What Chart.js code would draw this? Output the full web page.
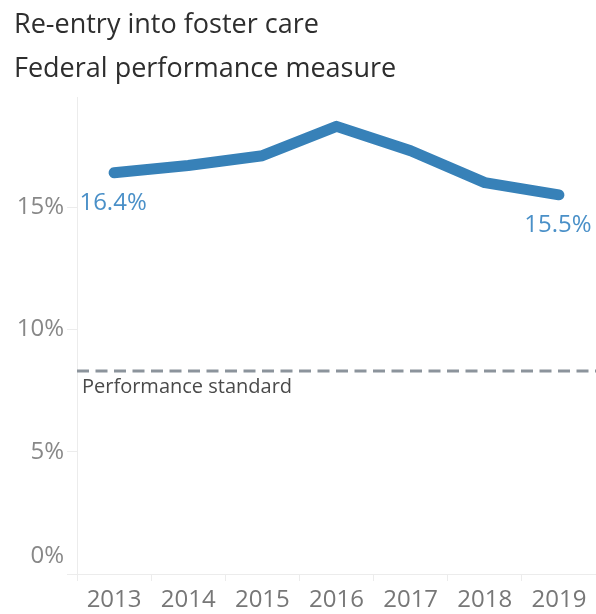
<!DOCTYPE html>
<html>
<head>
<meta charset="utf-8">
<script src="https://cdn.jsdelivr.net/npm/chart.js@4"></script>
<style>
html,body{margin:0;padding:0;background:#fff;}
#wrap{width:596px;height:614px;position:relative;}
</style>
</head>
<body>
<div id="wrap"><canvas id="c" width="596" height="614"></canvas></div>
<script>
const titleLines = ['Re-entry into foster care', 'Federal performance measure'];
const years = ['2013', '2014', '2015', '2016', '2017', '2018', '2019'];
const reentryRate = [16.4, 16.7, 17.1, 18.3, 17.3, 16.0, 15.5];
const labelledPoints = [0, 6];
const standardValue = 8.3;
const standardLabel = 'Performance standard';
const yTicks = [0, 5, 10, 15];

const FONT = "'Open Sans', 'Noto Sans', sans-serif";

const overlay = {
  id: 'overlay',
  beforeDatasetsDraw(chart) {
    const {ctx, chartArea, scales} = chart;
    const y = scales.y.getPixelForValue(standardValue);
    ctx.save();
    ctx.strokeStyle = '#8c949c';
    ctx.lineWidth = 3;
    ctx.setLineDash([12, 6.5]);
    ctx.beginPath();
    ctx.moveTo(chartArea.left, y);
    ctx.lineTo(chartArea.right, y);
    ctx.stroke();
    ctx.setLineDash([]);
    ctx.fillStyle = '#4a4a4a';
    ctx.font = "20px " + FONT;
    ctx.textAlign = 'left';
    ctx.textBaseline = 'middle';
    ctx.fillText(standardLabel, chartArea.left + 5, y + 16);
    ctx.restore();
  },
  afterDatasetsDraw(chart) {
    const {ctx, scales} = chart;
    const meta = chart.getDatasetMeta(0);
    ctx.save();
    ctx.fillStyle = '#4a90c8';
    ctx.font = "24px " + FONT;
    ctx.textAlign = 'center';
    ctx.textBaseline = 'middle';
    labelledPoints.forEach(i => {
      const p = meta.data[i];
      ctx.fillText(reentryRate[i].toFixed(1) + '%', p.x - 1, p.y + 30);
    });
    // 0% label sits above the baseline
    ctx.fillStyle = '#888';
    ctx.textAlign = 'right';
    const y0 = scales.y.getPixelForValue(0);
    ctx.fillText(yTicks[0] + '%', scales.y.right - 13, y0 - 17.5);
    ctx.restore();
  }
};

new Chart(document.getElementById('c'), {
  type: 'line',
  data: {
    labels: years,
    datasets: [{
      data: reentryRate,
      borderColor: '#3781b8',
      borderWidth: 11,
      borderCapStyle: 'round',
      borderJoinStyle: 'round',
      pointRadius: 0,
      pointHoverRadius: 0,
      tension: 0,
      fill: false
    }]
  },
  options: {
    responsive: false,
    animation: false,
    devicePixelRatio: 1,
    layout: {padding: {left: 14, right: 0, top: 0, bottom: 0}},
    plugins: {
      legend: {display: false},
      tooltip: {enabled: false},
      title: {
        display: true,
        text: titleLines,
        align: 'start',
        color: '#2e2e2e',
        font: {family: FONT, size: 27, weight: 'normal', lineHeight: 44 / 27},
        padding: {top: 3, bottom: 6}
      }
    },
    scales: {
      x: {
        type: 'category',
        offset: true,
        grid: {display: true, offset: true, drawOnChartArea: false, color: '#ececec', tickLength: 7},
        border: {display: true, color: '#ececec', width: 1},
        ticks: {color: '#777', font: {family: FONT, size: 24, lineHeight: 1.2}, padding: 5, maxRotation: 0, autoSkip: false},
        afterFit(scale) { scale.height = 40; }
      },
      y: {
        min: 0,
        max: 19.5,
        afterBuildTicks(scale) { scale.ticks = yTicks.map(v => ({value: v})); },
        grid: {display: true, drawOnChartArea: false, color: '#ececec', tickLength: 10},
        border: {display: true, color: '#ececec', width: 1},
        ticks: {
          color: '#888',
          font: {family: FONT, size: 24},
          padding: 3,
          callback: v => v === 0 ? '' : v + '%'
        },
        afterFit(scale) { scale.width = 63; }
      }
    }
  },
  plugins: [overlay]
});
</script>
</body>
</html>
